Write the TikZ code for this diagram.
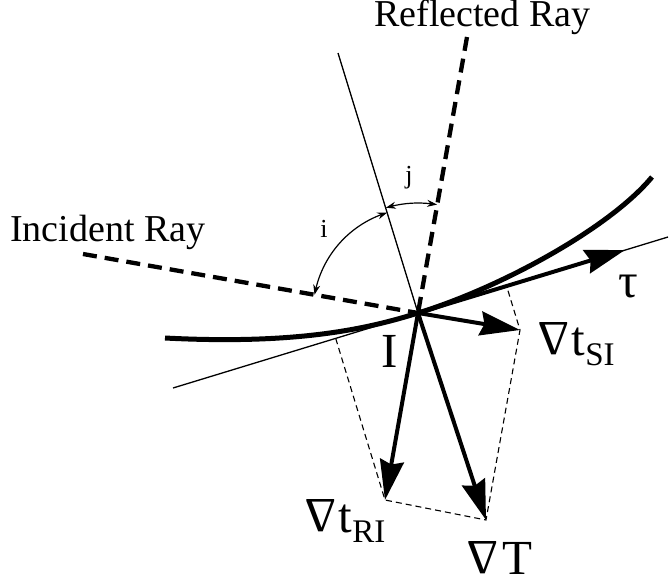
\documentclass[tikz,border=0pt]{standalone}
\usepackage{fontspec}
\setmainfont{Liberation Serif}
\usepackage{graphicx}
\usetikzlibrary{arrows.meta, calc, bending}
\newcommand{\grd}{\rotatebox[origin=c]{180}{Δ}}
\newcommand{\pedice}[1]{\raisebox{-10pt}{\fontsize{33}{35}\selectfont #1}}

\begin{document}
\begin{tikzpicture}[x=1pt, y=-1pt,
    sottile/.style={line width=1.3pt},
    raggio/.style={line width=4.3pt, dash pattern=on 14pt off 8pt},
    proiez/.style={line width=1.1pt, dash pattern=on 6pt off 4pt},
    vettore/.style={line width=4pt, -{Stealth[length=40pt, width=24pt, inset=4pt]}},
    angolo/.style={line width=1.2pt, {Stealth[length=10pt, width=7pt, bend]}-{Stealth[length=10pt, width=7pt, bend]}},
    etic/.style={font=\fontsize{38}{40}\selectfont, inner sep=0pt},
    piccola/.style={font=\fontsize{26}{28}\selectfont, inner sep=0pt},
    grande/.style={font=\fontsize{49}{51}\selectfont, inner sep=0pt}]
    \useasboundingbox (0,0) rectangle (669,581);

    % Punti
    \coordinate (I) at (418,313);
    \coordinate (nA) at (338,53);
    \coordinate (rA) at (467,37);
    \coordinate (iA) at (83,254);
    \coordinate (tL) at (173,388);
    \coordinate (tR) at (668,237);
    \coordinate (cL) at (165,338);
    \coordinate (cR) at (652,177);
    \coordinate (pTau) at (625,250);
    \coordinate (pSI) at (520,330);
    \coordinate (pRI) at (385,500);
    \coordinate (pT) at (486,520);
    \coordinate (fRI) at ($(tL)!(pRI)!(tR)$);
    \coordinate (fSI) at ($(tL)!(pSI)!(tR)$);

    % Tangente e normale
    \draw[sottile] (tL) -- (tR);
    \draw[sottile] (nA) -- (I);

    % Raggi
    \draw[raggio] (iA) -- (I);
    \draw[raggio] (rA) -- (I);

    % Angoli i e j
    \draw[angolo] ($(I)+(-170:105)$) arc[start angle=-170, end angle=-107, radius=105];
    \draw[angolo] ($(I)+(-107:110)$) arc[start angle=-107, end angle=-80, radius=110];

    % Proiezioni
    \draw[proiez] (fRI) -- (pRI) -- (pT) -- (pSI) -- (fSI);

    % Interfaccia
    \draw[line width=5pt] (cL) .. controls (300,345) and (370,328) .. (I)
        .. controls (500,288) and (610,228) .. (cR);

    % Vettori
    \draw[vettore] (I) -- (pTau);
    \draw[vettore] (I) -- (pSI);
    \draw[vettore] (I) -- (pRI);
    \draw[vettore] (I) -- (pT);

    % Etichette
    \node[etic, anchor=base west] (inc) at (10,241) {Incident Ray};
    \node[etic, anchor=base west] (rifl) at (374,26) {Reflected Ray};
    \node[piccola] (li) at (324,229) {i};
    \node[piccola] (lj) at (409,178) {j};
    \node[grande, anchor=base] (lI) at (390,367) {I};
    \node[grande, anchor=base] (ltau) at (628,297) {τ};
    \node[grande, anchor=base west] (lSI) at (538,355) {\grd\kern2pt t\pedice{SI}};
    \node[grande, anchor=base west] (lRI) at (305,532) {\grd\kern2pt t\pedice{RI}};
    \node[grande, anchor=base west] (lT) at (467,574) {\grd\kern4pt T};
\end{tikzpicture}
\end{document}
